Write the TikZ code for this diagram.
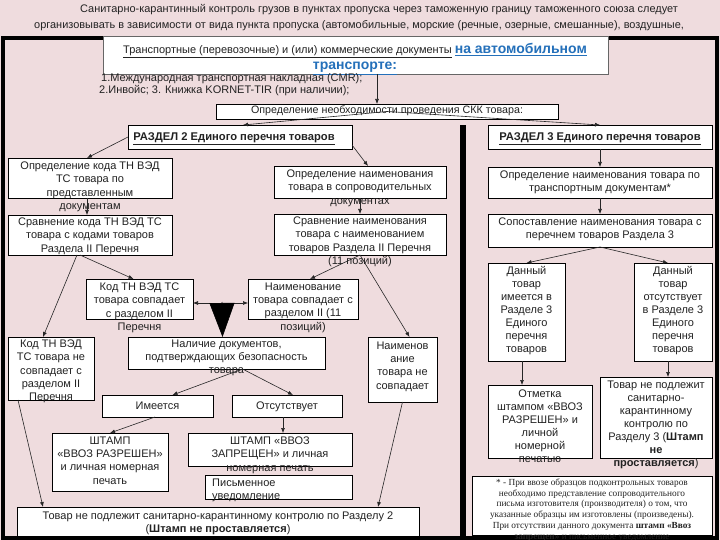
\documentclass[tikz,border=0pt]{standalone}
\usepackage{fontspec}
\setmainfont{Liberation Sans}
\newfontfamily\serifft{Liberation Serif}
\usetikzlibrary{arrows.meta}
\definecolor{bgpink}{HTML}{EFDCDE}
\definecolor{blu}{HTML}{2470BA}
\definecolor{ink}{HTML}{222222}
\newcommand{\bx}[6]{\node[boxst,#6,minimum width={(#4-#2)*1pt},minimum height={(#5-#3)*1pt}] (#1) at ({(#2+#4)/2},{(#3+#5)/2}) {};}
\tikzset{
 boxst/.style={draw=black,line width=0.7pt,fill=white,inner sep=0pt,outer sep=0pt},
 txt/.style={font=\fontsize{11}{13.3}\selectfont,align=center,inner sep=0pt,text=ink,anchor=north,execute at begin node=\strut},
 rtxt/.style={txt,font=\fontsize{11}{13}\selectfont},
 hdr/.style={txt,font=\fontsize{11.2}{14}\selectfont\bfseries},
 fnt/.style={font=\serifft\fontsize{9.3}{10.8}\selectfont,align=center,inner sep=0pt,text=ink,anchor=north,execute at begin node=\strut},
 arr/.style={-{Latex[length=5pt,width=4pt]},line width=0.6pt,draw=black!85},
}
\begin{document}
\begin{tikzpicture}[x=1pt,y=-1pt]
\fill[bgpink] (0,0) rectangle (720,540);
\useasboundingbox (0,0) rectangle (720,540);
% title
\node[anchor=west,inner sep=0pt,text=ink,font=\fontsize{10.95}{12}\selectfont] (t1) at (80,10) {Санитарно-карантинный контроль грузов в пунктах пропуска через таможенную границу таможенного союза следует};
\node[anchor=west,inner sep=0pt,text=ink,font=\fontsize{10.95}{12}\selectfont] (t2) at (34,26) {организовывать в зависимости от вида пункта пропуска (автомобильные, морские (речные, озерные, смешанные), воздушные,};
% frame
\draw[line width=4pt] (2.5,38) rectangle (716.5,537.5);
\fill[black] (460,125) rectangle (466,538);
% top box
\bx{doc}{103}{36}{608}{74}{draw=black!60,line width=0.6pt}
\node[inner sep=0pt,align=center,text=ink,anchor=north,font=\fontsize{11}{16}\selectfont] (doct) at (355,43) {\underline{Транспортные (перевозочные) и (или) коммерческие документы} \textcolor{blu}{\fontsize{14}{16}\selectfont\bfseries\underline{на автомобильном}}\\ \textcolor{blu}{\fontsize{14}{16}\selectfont\bfseries\underline{транспорте:}}};
\node[anchor=west,inner sep=0pt,text=ink,font=\fontsize{11}{12}\selectfont] (cmr) at (101,79) {1.Международная транспортная накладная (CMR);};
\node[anchor=west,inner sep=0pt,text=ink,font=\fontsize{11}{12}\selectfont] (inv) at (99,91) {2.Инвойс; 3. Книжка KORNET-TIR (при наличии);};
\bx{skk}{216}{104}{558}{119}{}
\node[txt,font=\fontsize{10.7}{13}\selectfont] (skkt) at (387,104.6) {Определение необходимости проведения СКК товара:};
% section headers
\bx{r2}{128}{125}{352}{149}{}
\node[hdr] (r2t) at (234,130.4) {\underline{РАЗДЕЛ 2 Единого перечня товаров}};
\bx{r3}{488}{125}{712}{149}{}
\node[hdr] (r3t) at (600,130.4) {\underline{РАЗДЕЛ 3 Единого перечня товаров}};
% left column
\bx{a1}{8}{158}{172}{198}{}
\node[txt] (a1t) at (90,161.6) {Определение кода ТН ВЭД\\ТС товара по\\представленным\\документам};
\bx{a2}{8}{215}{172}{255}{}
\node[txt] (a2t) at (90,217.6) {Сравнение кода ТН ВЭД ТС\\товара с кодами товаров\\Раздела II Перечня};
\bx{b1}{274}{166}{446}{198}{}
\node[txt] (b1t) at (360,169.6) {Определение наименования\\товара в сопроводительных\\документах};
\bx{b2}{274}{214}{446}{255}{}
\node[txt] (b2t) at (360,216.6) {Сравнение наименования\\товара с наименованием\\товаров Раздела II Перечня\\(11 позиций)};
\bx{c1}{86}{279}{193}{319}{}
\node[txt] (c1t) at (139.5,282.6) {Код ТН ВЭД ТС\\товара совпадает\\с разделом II\\Перечня};
\bx{c2}{248}{279}{358}{319}{}
\node[txt] (c2t) at (303,282.6) {Наименование\\товара совпадает с\\разделом II (11\\позиций)};
\bx{d1}{8}{337}{94}{400}{}
\node[txt] (d1t) at (51,339.6) {Код ТН ВЭД\\ТС товара не\\совпадает с\\разделом II\\Перечня};
\bx{d2}{128}{337}{325}{369}{}
\node[txt] (d2t) at (226.5,339.6) {Наличие документов,\\подтверждающих безопасность\\товара};
\bx{d3}{368}{337}{437}{402}{}
\node[txt] (d3t) at (402.5,341.6) {Наименов\\ание\\товара не\\совпадает};
\bx{e1}{102}{395}{213}{417}{}
\node[txt] (e1t) at (157.5,399.6) {Имеется};
\bx{e2}{232}{395}{342}{417}{}
\node[txt] (e2t) at (287,399.6) {Отсутствует};
\bx{f1}{52}{433}{168}{491}{}
\node[txt] (f1t) at (110,436.6) {ШТАМП\\«ВВОЗ РАЗРЕШЕН»\\и личная номерная\\печать};
\bx{f2}{188}{433}{352}{466}{}
\node[txt] (f2t) at (270,436.6) {ШТАМП «ВВОЗ\\ЗАПРЕЩЕН» и личная\\номерная печать};
\bx{g}{205}{475}{352}{499}{}
\node[txt,anchor=north west,align=left] (gt) at (212,478.6) {Письменное\\уведомление};
\bx{h}{17}{507}{419}{536}{}
\node[txt] (ht) at (218,511.6) {Товар не подлежит санитарно-карантинному контролю по Разделу 2\\(\textbf{Штамп не проставляется})};
% right column
\bx{R1}{488}{167}{712}{198}{}
\node[txt] (R1t) at (600,170.6) {Определение наименования товара по\\транспортным документам*};
\bx{R2}{488}{214}{712}{247}{}
\node[txt] (R2t) at (600,217.6) {Сопоставление наименования товара с\\перечнем товаров Раздела 3};
\bx{R3a}{488}{263}{565}{361}{}
\node[rtxt] (R3at) at (526.5,266.6) {Данный\\товар\\имеется в\\Разделе 3\\Единого\\перечня\\товаров};
\bx{R3b}{634}{263}{712}{361}{}
\node[rtxt] (R3bt) at (673,266.6) {Данный\\товар\\отсутствует\\в Разделе 3\\Единого\\перечня\\товаров};
\bx{R4a}{488}{385}{592}{458}{}
\node[rtxt] (R4at) at (540,389.6) {Отметка\\штампом «ВВОЗ\\РАЗРЕШЕН» и\\личной\\номерной\\печатью};
\bx{R4b}{600}{377}{712}{458}{}
\node[rtxt] (R4bt) at (656,380.6) {Товар не подлежит\\санитарно-\\карантинному\\контролю по\\Разделу 3 (\textbf{Штамп}\\\textbf{не}\\\textbf{проставляется})};
\bx{fn}{472}{476}{712}{535}{}
\node[fnt] (fnt) at (592,478.5) {* - При ввозе образцов подконтрольных товаров\\необходимо представление сопроводительного\\письма изготовителя (производителя) о том, что\\указанные образцы им изготовлены (произведены).\\При отсутствии данного документа \textbf{штамп «Ввоз}\\\textbf{запрещен»} и письменное уведомление};
% connectors
\draw[arr] ([xshift=21.5]doc.south) -- ([xshift=-10]skk.north);
\draw[arr] (skk.center) -- ([xshift=3]r2.north);
\draw[arr] (skk.center) -- (r3.north);
\draw[arr] (r2.west) -- ([xshift=-3]a1.north);
\draw[arr] ([xshift=-3]a1.south) -- ([xshift=-3]a2.north);
\draw[arr] ([yshift=4]r2.south east) -- ([xshift=8]b1.north);
\draw[arr] (b1.south) -- (b2.north);
\draw[arr] (r3.south) -- (R1.north);
\draw[arr] (R1.south) -- (R2.north);
\draw[arr] (R2.south) -- (R3a.north);
\draw[arr] (R2.south) -- ([xshift=-5]R3b.north);
\draw[arr] ([xshift=-10]a2.south) -- ([xshift=-6]c1.north);
\draw[arr] ([xshift=-13]a2.south) -- ([xshift=-8]d1.north);
\draw[arr] (b2.south) -- ([xshift=7]c2.north);
\draw[arr] (b2.south) -- ([xshift=7]d3.north);
\draw[{Latex[length=5pt,width=4pt]}-{Latex[length=5pt,width=4pt]},line width=0.6pt,draw=black!85] ([yshift=-4]c1.east) -- ([yshift=-4]c2.west);
\coordinate (tri) at (222,302);
\draw[-{Triangle[length=34pt,width=25pt]},line width=0.6pt] (tri) -- ([xshift=-4]d2.north);
\draw[arr] ([xshift=16]d2.south) -- ([xshift=15]e1.north);
\draw[arr] ([xshift=16]d2.south) -- ([xshift=6]e2.north);
\draw[arr] ([xshift=-2.5]e1.south) -- (f1.north);
\draw[arr] ([xshift=-4]e2.south) -- ([xshift=13]f2.north);
\draw[arr] ([xshift=-33]d1.south) -- ([xshift=-175]h.north);
\draw[arr] (d3.south) -- ([xshift=160]h.north);
\draw[arr] ([xshift=-4.5]R3a.south) -- ([xshift=-18]R4a.north);
\draw[arr] ([xshift=-5]R3b.south) -- ([xshift=12]R4b.north);
\end{tikzpicture}
\end{document}
